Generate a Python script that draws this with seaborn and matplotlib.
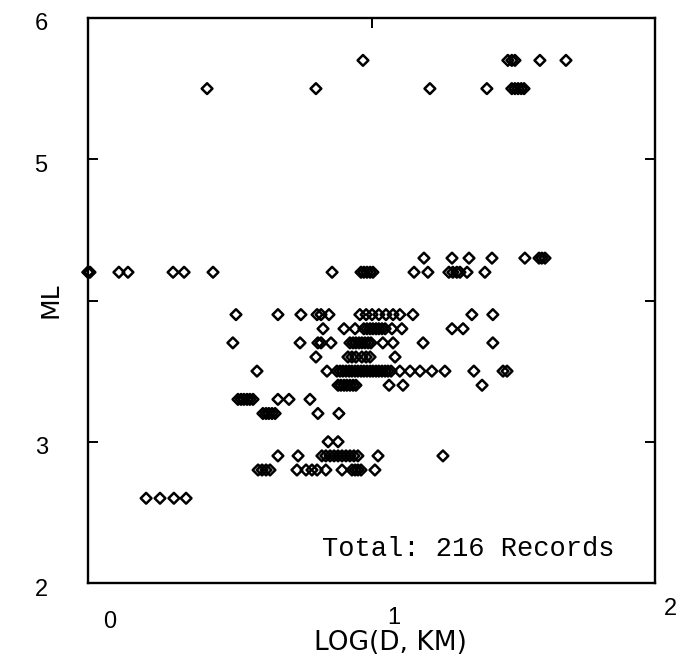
import numpy as np
import pandas as pd
import matplotlib
matplotlib.use("Agg")
import matplotlib.pyplot as plt
from matplotlib.transforms import ScaledTranslation
import seaborn as sns

# ---- data: LOG(D, KM) values read per ML level ----
ml_levels = [5.7, 5.5, 4.3, 4.2, 3.9, 3.8, 3.7, 3.6, 3.5, 3.4, 3.3, 3.2, 3.0, 2.9, 2.8, 2.6]

logd_57 = [0.970, 1.481, 1.495, 1.506, 1.594, 1.686]
logd_55 = [0.420, 0.804, 1.206, 1.407, 1.495, 1.506, 1.517, 1.528, 1.538]
logd_43 = [1.185, 1.284, 1.344, 1.425, 1.541, 1.591, 1.601, 1.612]
logd_42 = [0.0, 0.0, 0.007, 0.109, 0.141, 0.300, 0.339, 0.441, 0.861, 0.963, 0.973,
           0.984, 0.995, 1.005, 1.150, 1.199, 1.273, 1.287, 1.301, 1.312, 1.337, 1.400]
logd_39 = [0.522, 0.670, 0.751, 0.808, 0.822, 0.850, 0.959, 0.981, 1.002, 1.026,
           1.051, 1.076, 1.100, 1.146, 1.354, 1.428]
logd_38 = [0.829, 0.903, 0.942, 0.973, 0.984, 0.995, 1.005, 1.016, 1.026, 1.037,
           1.048, 1.072, 1.107, 1.284, 1.323]
logd_37 = [0.511, 0.748, 0.811, 0.822, 0.857, 0.924, 0.935, 0.945, 0.956, 0.966,
           0.977, 0.988, 0.998, 1.040, 1.076, 1.182, 1.428]
logd_36 = [0.804, 0.917, 0.931, 0.945, 0.966, 0.981, 0.995, 1.083]
logd_35 = [0.596, 0.843, 0.878, 0.889, 0.899, 0.910, 0.921, 0.931, 0.942, 0.952,
           0.963, 0.973, 0.984, 0.995, 1.005, 1.016, 1.026, 1.037, 1.048, 1.058,
           1.069, 1.100, 1.136, 1.171, 1.213, 1.259, 1.361, 1.464, 1.478]
logd_34 = [0.882, 0.892, 0.903, 0.913, 0.924, 0.935, 0.945, 1.062, 1.111, 1.390]
logd_33 = [0.529, 0.540, 0.550, 0.561, 0.571, 0.582, 0.670, 0.709, 0.783]
logd_32 = [0.617, 0.628, 0.638, 0.649, 0.660, 0.811, 0.885]
logd_30 = [0.847, 0.882]
logd_29 = [0.670, 0.741, 0.825, 0.839, 0.854, 0.868, 0.882, 0.896, 0.910, 0.924,
           0.938, 0.952, 1.023, 1.252]
logd_28 = [0.600, 0.614, 0.628, 0.642, 0.737, 0.769, 0.790, 0.808, 0.839, 0.896,
           0.931, 0.942, 0.952, 0.963, 1.012]
logd_26 = [0.205, 0.254, 0.303, 0.346]

rows = [logd_57, logd_55, logd_43, logd_42, logd_39, logd_38, logd_37, logd_36,
        logd_35, logd_34, logd_33, logd_32, logd_30, logd_29, logd_28, logd_26]

x_ticks = [0, 1, 2]
x_tick_labels = ["0", "1", "2"]
y_ticks = [2, 3, 4, 5, 6]
y_tick_labels = ["2", "3", "", "5", "6"]
x_label = "LOG(D, KM)"
y_label = "ML"
note = "Total: 216 Records"

df = pd.DataFrame({
    "logd": [v for r in rows for v in r],
    "ml": [m for m, r in zip(ml_levels, rows) for _ in r],
})

# ---- figure ----
sns.set_theme(style="white")
plt.rcParams["font.family"] = ["Liberation Sans", "DejaVu Sans"]

fig = plt.figure(figsize=(6.79, 6.68), dpi=100)
ax = fig.add_axes([88 / 679, 1 - 583 / 668, 567 / 679, 565 / 668])

sns.scatterplot(data=df, x="logd", y="ml", ax=ax, marker="D", s=30,
                facecolor="none", edgecolor="black", linewidth=1.8,
                clip_on=False, legend=False, zorder=3)

ax.set_xlim(0, 2)
ax.set_ylim(2, 6)
ax.set_xticks(x_ticks)
ax.set_xticklabels(x_tick_labels)
ax.set_yticks(y_ticks)
ax.set_yticklabels(y_tick_labels)

for sp in ax.spines.values():
    sp.set_visible(True)
    sp.set_linewidth(1.7)
    sp.set_color("black")

ax.tick_params(axis="x", bottom=False, top=True, direction="in", length=7,
               width=1.4, labelsize=17, pad=20, colors="black")
ax.tick_params(axis="y", left=True, right=True, direction="in", length=7,
               width=1.4, labelsize=17, pad=29, colors="black")

# tick labels in the scan sit slightly offset from their ticks
x_offsets = [(22, 0), (22, 4), (15, 13)]
for lbl, (dx, dy) in zip(ax.get_xticklabels(), x_offsets):
    lbl.set_transform(lbl.get_transform() +
                      ScaledTranslation(dx / 100, dy / 100, fig.dpi_scale_trans))
for lbl in ax.get_yticklabels():
    lbl.set_transform(lbl.get_transform() +
                      ScaledTranslation(0, -4 / 100, fig.dpi_scale_trans))

ax.set_xlabel(x_label, fontsize=19, family="DejaVu Sans", color="black")
ax.set_ylabel(y_label, fontsize=18, family="DejaVu Sans", color="black")
ax.xaxis.set_label_coords((390 - 88) / 567, (583 - 630) / 565)
ax.yaxis.set_label_coords((62 - 88) / 567, (583 - 300) / 565)

ax.text(0.825, 2.24, note, family="Liberation Mono", fontsize=19.5,
        ha="left", va="center", color="black")

fig.savefig("out.png", dpi=100, facecolor="white")
